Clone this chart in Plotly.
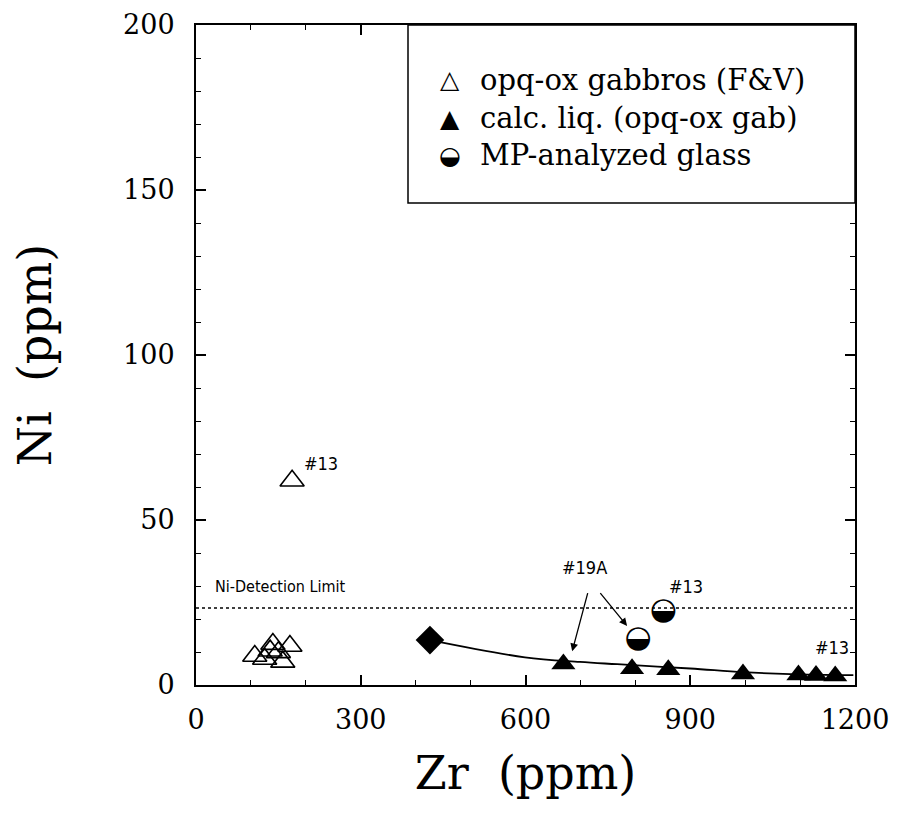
import plotly.graph_objects as go

# ---- data ----
gab_zr = [107, 125, 135, 140, 150, 158, 171, 175]
gab_ni = [8.8, 7.9, 10.4, 12.4, 9.9, 7.0, 11.8, 61.9]

liq_zr = [669, 794, 860, 996, 1097, 1129, 1164]
liq_ni = [6.4, 4.9, 4.6, 3.3, 3.0, 2.9, 2.7]

parent_zr = [426]
parent_ni = [13.6]

curve_zr = [426, 599, 699, 767, 900, 996, 1082, 1197]
curve_ni = [13.6, 8.4, 7.0, 6.3, 5.0, 3.9, 3.3, 3.0]

glass_zr = [805, 851]
glass_ni = [13.9, 22.4]

det_limit = 23.3

x_ticks = [0, 300, 600, 900, 1200]
y_ticks = [0, 50, 100, 150, 200]

legend_labels = ["opq-ox gabbros (F&V)", "calc. liq. (opq-ox gab)", "MP-analyzed glass"]
legend_glyphs = ["\u25B3", "\u25B2", "\u25D2"]

SERIF = "DejaVu Serif, Liberation Serif, serif"
NARROW = "Liberation Sans Narrow, DejaVu Sans Condensed, Liberation Sans, sans-serif"
GLYPH = "DejaVu Sans, sans-serif"

fig = go.Figure()

# detection limit
fig.add_trace(go.Scatter(x=[0, 1200], y=[det_limit, det_limit], mode="lines",
                         line=dict(color="black", width=1.5, dash="dot"),
                         showlegend=False, hoverinfo="skip"))

# calculated liquid curve
fig.add_trace(go.Scatter(x=curve_zr, y=curve_ni, mode="lines",
                         line=dict(color="black", width=1.8, shape="spline"),
                         showlegend=False))

fig.add_trace(go.Scatter(x=gab_zr, y=gab_ni, mode="markers", name=legend_labels[0],
                         marker=dict(symbol="triangle-up-open", size=21, color="black",
                                     line=dict(width=1.6, color="black")),
                         showlegend=False))

fig.add_trace(go.Scatter(x=liq_zr, y=liq_ni, mode="markers", name=legend_labels[1],
                         marker=dict(symbol="triangle-up", size=21, color="black"),
                         showlegend=False))

fig.add_trace(go.Scatter(x=parent_zr, y=parent_ni, mode="markers", name="parent",
                         marker=dict(symbol="diamond", size=22, color="black"),
                         showlegend=False))

fig.add_trace(go.Scatter(x=glass_zr, y=glass_ni, mode="text", name=legend_labels[2],
                         text=[legend_glyphs[2]] * len(glass_zr),
                         textposition="middle center",
                         textfont=dict(family=GLYPH, size=31, color="black"),
                         showlegend=False))

# legend box (manual, to show half-filled circle symbol)
L_X0 = (408 - 196) / 659
L_Y0 = (685 - 203) / 660
fig.add_shape(type="rect", xref="paper", yref="paper", x0=L_X0, x1=1, y0=L_Y0, y1=1,
              line=dict(color="black", width=1.5), fillcolor="white", layer="above")
leg_y = [0.917, 0.859, 0.803]
for g, lab, yy in zip(legend_glyphs, legend_labels, leg_y):
    fig.add_annotation(x=0.385, y=yy, xref="paper", yref="paper", text=g, showarrow=False,
                       font=dict(family=GLYPH, size=25, color="black"),
                       xanchor="center", yanchor="middle")
    fig.add_annotation(x=0.428, y=yy, xref="paper", yref="paper", text=lab, showarrow=False,
                       font=dict(family=SERIF, size=29, color="black"),
                       xanchor="left", yanchor="middle")

# text labels
lab_font = dict(family=NARROW, size=16, color="black")
num_font = dict(family=NARROW, size=18, color="black")
fig.add_annotation(x=153, y=30, text="Ni-Detection Limit", showarrow=False, font=lab_font)
fig.add_annotation(x=228, y=67, text="#13", showarrow=False, font=num_font)
fig.add_annotation(x=893, y=30, text="#13", showarrow=False, font=num_font)
fig.add_annotation(x=1158, y=11.5, text="#13", showarrow=False, font=num_font)
fig.add_annotation(x=708, y=35.5, text="#19A", showarrow=False, font=num_font)
# arrows from #19A
fig.add_annotation(x=685, y=10.2, ax=714, ay=28.3, xref="x", yref="y", axref="x", ayref="y",
                   text="", showarrow=True, arrowhead=2, arrowsize=1.2, arrowwidth=1.3,
                   arrowcolor="black")
fig.add_annotation(x=785, y=17.9, ax=734, ay=28.3, xref="x", yref="y", axref="x", ayref="y",
                   text="", showarrow=True, arrowhead=2, arrowsize=1.2, arrowwidth=1.3,
                   arrowcolor="black")

axis_common = dict(showgrid=False, zeroline=False, showline=True, linecolor="black",
                   linewidth=2, mirror="ticks", ticks="inside", ticklen=10, tickwidth=1.5,
                   tickcolor="black", tickfont=dict(family=SERIF, size=27, color="black"),
                   automargin=False)

fig.update_xaxes(range=[0, 1200], tickvals=x_ticks,
                 minor=dict(dtick=100, ticks="inside", ticklen=5, tickwidth=1.2, tickcolor="black"),
                 title=dict(text="Zr  (ppm)", font=dict(family=SERIF, size=46, color="black"),
                            standoff=22),
                 ticklabelstandoff=10, **axis_common)
fig.update_yaxes(range=[0, 200], tickvals=y_ticks,
                 minor=dict(dtick=10, ticks="inside", ticklen=5, tickwidth=1.2, tickcolor="black"),
                 title=dict(text="Ni  (ppm)", font=dict(family=SERIF, size=46, color="black"),
                            standoff=62),
                 ticklabelstandoff=14, **axis_common)

fig.update_layout(width=899, height=820, margin=dict(l=188, r=52, t=17, b=143),
                  paper_bgcolor="white", plot_bgcolor="white", showlegend=False)

fig.write_html("out.html")
